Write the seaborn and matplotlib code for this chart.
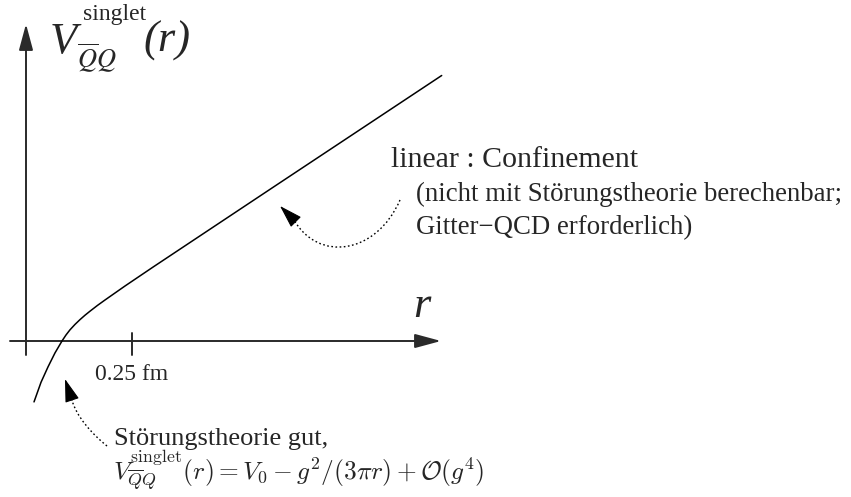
import numpy as np
import matplotlib
matplotlib.use("Agg")
import matplotlib.pyplot as plt
from matplotlib.patches import FancyArrowPatch, PathPatch
from matplotlib.path import Path
import seaborn as sns

# Static quark-antiquark potential (schematic), r in fm, V in arbitrary units
r_fm = [0.0189, 0.0354, 0.0519, 0.0684, 0.0849, 0.0943, 0.1038, 0.1156,
        0.1274, 0.1392, 0.1509, 0.1686, 0.1863, 0.2335, 0.2995, 0.5873,
        0.9804]
V_au = [-0.609, -0.413, -0.259, -0.119, 0.000, 0.060, 0.112, 0.166,
        0.214, 0.258, 0.298, 0.356, 0.410, 0.550, 0.739, 1.550, 2.655]

tick_r = [0.25]
tick_labels = ["0.25 fm"]

sns.set_style("white")
plt.rcParams["font.family"] = ["Liberation Serif", "DejaVu Serif"]

W, H = 851, 497
fig = plt.figure(figsize=(W / 100, H / 100), dpi=100)
ax = fig.add_axes([0, 0, 1, 1])

# screen layout: 424 px per fm, 100 px per potential unit, origin at (26, 341)
X0, Y0, SX, SY = 26.0, 341.0, 424.0, 100.0
ax.set_xlim(-X0 / SX, (W - X0) / SX)
ax.set_ylim((Y0 - H) / SY, Y0 / SY)
ax.set_axis_off()


def at(x, y):
    return ((x - X0) / SX, (Y0 - y) / SY)


axis_col = "#2a2a2a"

# coordinate axes with arrow heads
for start, tip in [((26, 355), (26, 24)), ((10, 341), (441, 341))]:
    ax.add_patch(FancyArrowPatch(at(*start), at(*tip),
                                 arrowstyle="-|>,head_length=1.0,head_width=0.27",
                                 mutation_scale=16, lw=1.4, color=axis_col,
                                 shrinkA=0, shrinkB=0))

# tick mark on the r axis
for rv, lab in zip(tick_r, tick_labels):
    ax.plot([rv, rv], [0.08, -0.14], color=axis_col, lw=1.4)
    ax.text(rv - 0.088, (Y0 - 380) / SY, lab, fontsize=17, ha="left",
            va="baseline")

# the potential curve
sns.lineplot(x=r_fm, y=V_au, ax=ax, color="black", lw=1.1, sort=False,
             estimator=None)

# axis labels
ax.text(*at(50, 53), "V", fontsize=32, style="italic", va="baseline")
ax.text(*at(83, 20), "singlet", fontsize=17, va="baseline")
ax.text(*at(77, 68), r"$\overline{Q}Q$", fontsize=19, va="baseline",
        math_fontfamily="stix")
ax.text(*at(143, 52), "(r)", fontsize=32, style="italic", va="baseline")
ax.text(*at(413, 317), "r", fontsize=32, style="italic", va="baseline")

# annotations
ax.text(*at(391, 167), "linear : Confinement", fontsize=21.5, va="baseline")
ax.text(*at(416, 201), "(nicht mit Störungstheorie berechenbar;",
        fontsize=19.3, va="baseline")
ax.text(*at(416, 234), "Gitter\u2212QCD erforderlich)", fontsize=19.3,
        va="baseline")
ax.text(*at(114, 445), "Störungstheorie gut,", fontsize=19, va="baseline")
ax.text(*at(113, 481),
        r"$V_{\overline{Q}Q}^{\mathrm{singlet}}(r) = V_0 - g^2/(3\pi r)"
        r" + \mathcal{O}(g^4)$",
        fontsize=18.3, va="baseline", math_fontfamily="cm")


def dotted_arrow(pts, base, tip):
    verts = [at(*p) for p in pts]
    path = Path(verts, [Path.MOVETO, Path.CURVE4, Path.CURVE4, Path.CURVE4])
    ax.add_patch(PathPatch(path, fill=False, lw=1.0, color="black",
                           linestyle=(0, (1.2, 1.8))))
    ax.add_patch(FancyArrowPatch(at(*base), at(*tip),
                                 arrowstyle="-|>,head_length=1.45,head_width=0.45",
                                 mutation_scale=10, lw=0.8, color="black",
                                 shrinkA=0, shrinkB=0))


dotted_arrow([(400, 200), (376, 255), (318, 262), (294, 220)],
             (294, 220), (280, 206))
dotted_arrow([(107, 446), (92, 434), (76, 416), (72, 400)],
             (72, 400), (65, 379))

fig.savefig("out.png", dpi=100)
